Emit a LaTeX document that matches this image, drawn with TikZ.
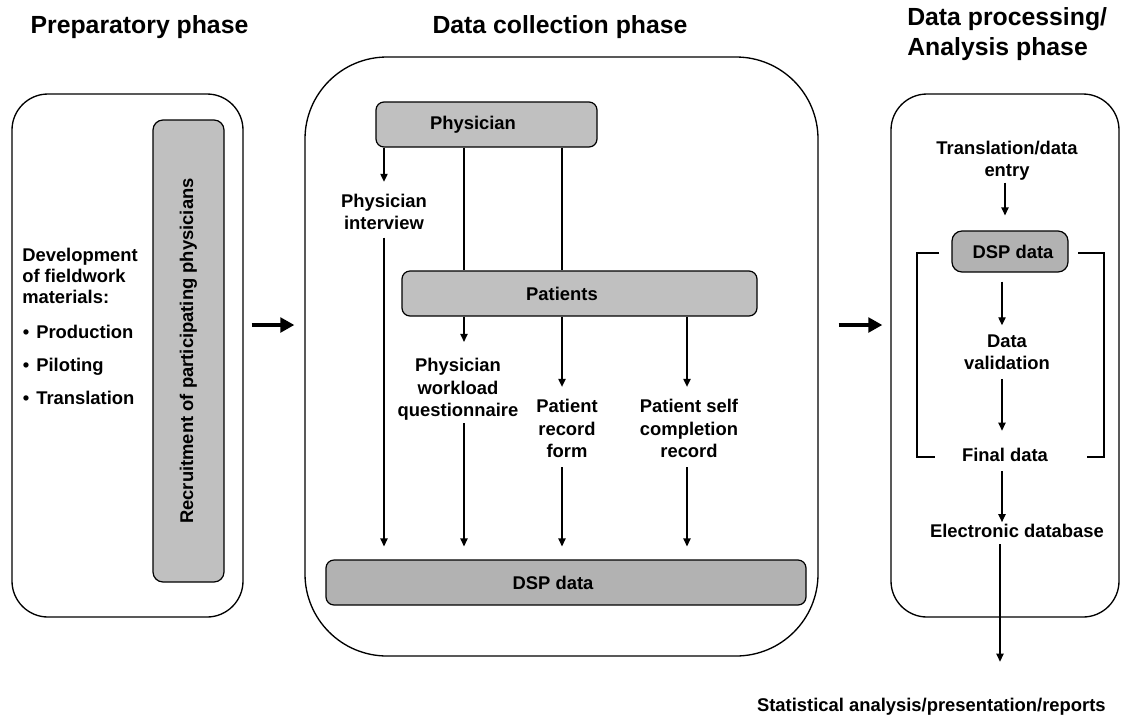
\documentclass[tikz,border=0pt]{standalone}
\usepackage{fontspec}
\setmainfont{Liberation Sans}
\usetikzlibrary{arrows.meta,fit}
\definecolor{boxgray}{HTML}{C0C0C0}
\definecolor{dspgray}{HTML}{B2B2B2}
\begin{document}
\begin{tikzpicture}[x=0.75pt,y=-0.75pt,
  every node/.style={font=\bfseries\fontsize{13.8pt}{16.8pt}\selectfont, inner sep=0pt},
  panel/.style={draw, line width=1pt, rounded corners=27pt},
  gbox/.style={draw, line width=0.9pt, fill=boxgray, rounded corners=6pt},
  dbox/.style={draw, line width=0.9pt, fill=dspgray, rounded corners=6pt},
  lbl/.style={align=center},
  arr/.style={draw, line width=0.9pt, -{Triangle[length=6pt,width=5.5pt]}},
  conn/.style={draw, line width=0.9pt},
  bigarr/.style={draw, line width=2.5pt, -{Triangle[length=10.5pt,width=11pt]}},
  title/.style={font=\bfseries\fontsize{18.6pt}{22.5pt}\selectfont}
]
\useasboundingbox (0,0) rectangle (1122,719);

% titles
\node[title, anchor=base] (t1) at (139.5,33) {Preparatory phase};
\node[title, anchor=base] (t2) at (560,33) {Data collection phase};
\node[title, anchor=north west, align=left] (t3) at (907,7) {Data processing/\\Analysis phase};

% panels
\node[panel, fit={(12,94) (243,617)}] (leftp) {};
\node[panel, rounded corners=61.5pt, fit={(305,57) (818,656)}] (centp) {};
\node[panel, fit={(891,94) (1119,617)}] (rightp) {};

% left panel
\node[anchor=north west, align=left, font=\bfseries\fontsize{13.8pt}{15.75pt}\selectfont] (dev) at (22,248)
  {Development\\of fieldwork\\materials:\\[10.5pt]\makebox[10.5pt][l]{\hspace{0.5pt}•}Production\\[9pt]\makebox[10.5pt][l]{\hspace{0.5pt}•}Piloting\\[9pt]\makebox[10.5pt][l]{\hspace{0.5pt}•}Translation};
\node[gbox, rounded corners=7.5pt, rotate=90, minimum width=346.5pt, minimum height=53.25pt] (recr) at (188.5,351)
  {Recruitment of participating physicians};

% column coordinates
\coordinate (ay) at (0,325);
\coordinate (c1) at (384,0);
\coordinate (c2) at (464,0);
\coordinate (c3) at (562,0);
\coordinate (c4) at (687,0);
\coordinate (r1) at (1005,0);
\coordinate (r2) at (1002,0);
\coordinate (r3) at (1000,0);

% centre panel
\node[gbox, minimum width=165.75pt, minimum height=33.75pt] (phys) at (486.5,124.5) {Physician\hspace*{20.25pt}};
\node[gbox, minimum width=266.25pt, minimum height=33.75pt] (pat) at (579.5,293.5) {Patients\hspace*{26.25pt}};
\node[dbox, minimum width=360pt, minimum height=33.75pt] (dsp) at (566,582.5) {DSP data\hspace*{19.5pt}};
\node[lbl] (pint) at (384,212) {Physician\\interview};
\node[lbl] (pwq) at (458,389.4) {Physician\\workload\\questionnaire};
\node[lbl] (prf) at (567,428.5) {Patient\\record\\form};
\node[lbl] (pscr) at (689,428.5) {Patient self\\completion\\record};

\draw[arr, shorten >=9pt] (phys.south -| c1) -- (pint.north -| c1);
\draw[arr, shorten <=5.5pt, shorten >=9.75pt] (pint.south -| c1) -- (dsp.north -| c1);
\draw[conn] (phys.south -| c2) -- (pat.north -| c2);
\draw[conn] (phys.south -| c3) -- (pat.north -| c3);
\draw[arr, shorten >=12.2pt] (pat.south -| c2) -- (pwq.north -| c2);
\draw[arr, shorten <=1.9pt, shorten >=9.75pt] (pwq.south -| c2) -- (dsp.north -| c2);
\draw[arr, shorten >=9.2pt] (pat.south -| c3) -- (prf.north -| c3);
\draw[arr, shorten <=7pt, shorten >=9.75pt] (prf.south -| c3) -- (dsp.north -| c3);
\draw[arr, shorten >=9.2pt] (pat.south -| c4) -- (pscr.north -| c4);
\draw[arr, shorten <=7pt, shorten >=9.75pt] (pscr.south -| c4) -- (dsp.north -| c4);

% right panel
\node[lbl] (tde) at (1007,161) {Translation/data\\entry};
\node[dbox, rounded corners=7.5pt, minimum width=87pt, minimum height=30.75pt] (sdsp) at (1010,251.5) {\hspace*{4.5pt}DSP data};
\node[lbl] (dval) at (1007,352.5) {Data\\validation};
\node (fdata) at (1005,455) {Final data};
\node (edb) at (1017,531) {Electronic database};
\node[anchor=base east] (stat) at (1106,711) {Statistical analysis/presentation/reports};

\draw[arr, shorten <=1.1pt, shorten >=11.25pt] (tde.south -| r1) -- (sdsp.north -| r1);
\draw[arr, shorten <=6.75pt, shorten >=7pt] (sdsp.south -| r2) -- (dval.north -| r2);
\draw[arr, shorten <=6.3pt, shorten >=13pt] (dval.south -| r2) -- (fdata.north -| r2);
\draw[arr, shorten <=7pt, shorten >=1.4pt] (fdata.south -| r2) -- (edb.north -| r2);
\draw[arr, shorten <=4.5pt, shorten >=26.8pt] (edb.south -| r3) -- (stat.north -| r3);

% bracket
\draw[line width=0.9pt] (939,253) -- (917,253) -- (917,457) -- (935,457);
\draw[line width=0.9pt] (1078,253) -- (1104,253) -- (1104,457) -- (1087,457);

% phase arrows
\draw[bigarr, shorten <=6pt, shorten >=7.5pt] (leftp.east |- ay) -- (centp.west |- ay);
\draw[bigarr, shorten <=15pt, shorten >=6pt] (centp.east |- ay) -- (rightp.west |- ay);
\end{tikzpicture}
\end{document}
